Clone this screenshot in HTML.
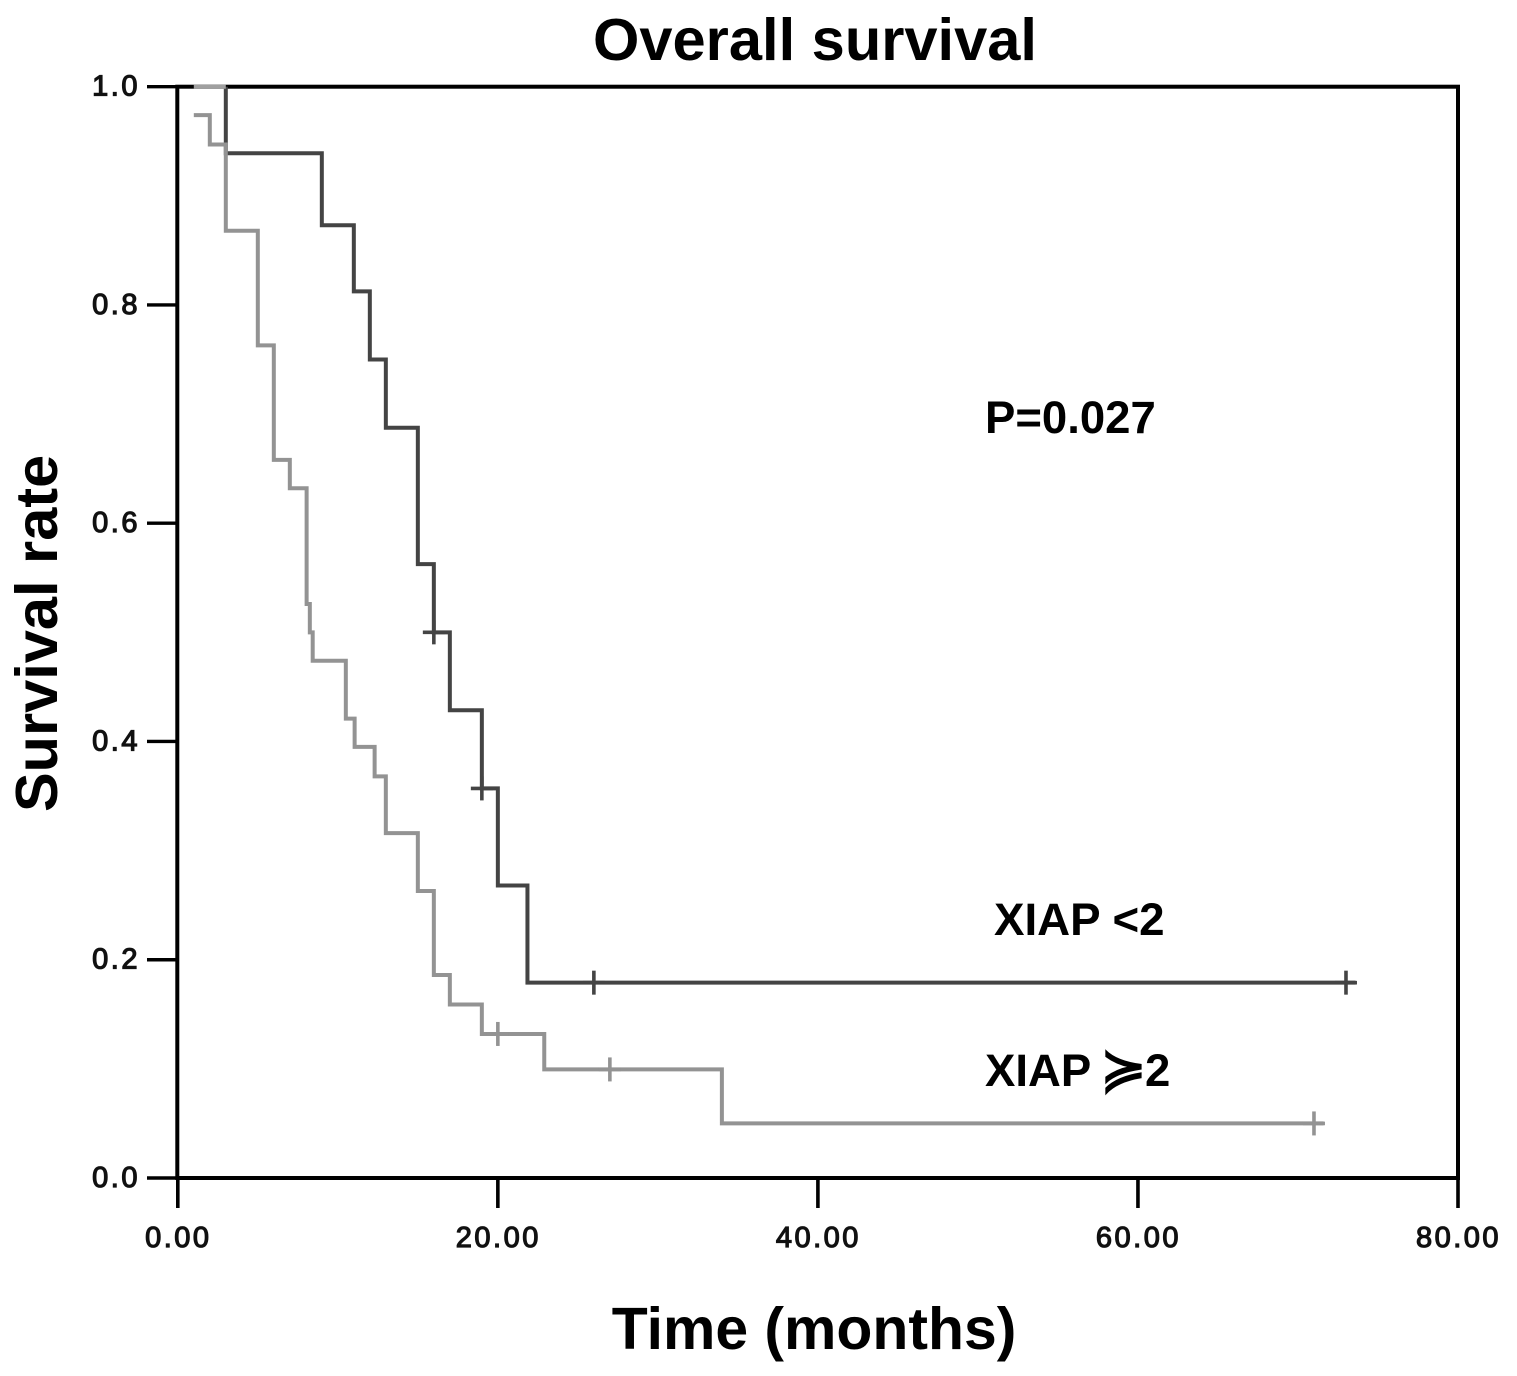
<!DOCTYPE html>
<html lang="en">
<head>
<meta charset="utf-8">
<title>Overall survival</title>
<style>
html,body{margin:0;padding:0;background:#fff;}
svg{display:block;}
.lbl{font-family:"Liberation Sans",Arial,sans-serif;font-weight:700;fill:#000;}
.tick-label{font-family:"Liberation Sans",Arial,sans-serif;font-size:29px;letter-spacing:2.5px;fill:#111;stroke:#111;stroke-width:1.2px;}
</style>
</head>
<body>
<svg id="chart" xmlns="http://www.w3.org/2000/svg" width="1517" height="1376" viewBox="0 0 1517 1376">
  <rect x="0" y="0" width="1517" height="1376" fill="#fff"/>
  <text class="lbl" x="815" y="60" font-size="59.6" text-anchor="middle">Overall survival</text>
  <text class="lbl" x="814" y="1349" font-size="58.9" text-anchor="middle">Time (months)</text>
  <text class="lbl" transform="translate(57,812) rotate(-90)" font-size="59.5">Survival rate</text>
  <text class="lbl" x="985" y="433" font-size="45.5">P=0.027</text>
  <text class="lbl" x="994" y="935" font-size="45.7">XIAP &lt;2</text>
  <text class="lbl" x="985" y="1086" font-size="45.5">XIAP <tspan x="1100" font-family="'DejaVu Sans',sans-serif" font-size="56" font-weight="400" stroke="#000" stroke-width="1.2" dy="2">≽</tspan><tspan x="1145" dy="-2">2</tspan></text>
  <g id="axes"></g>
  <g id="marks"></g>
</svg>
<script>
// Axis ticks
const xTicks = [0, 20, 40, 60, 80];
const xTickLabels = ['0.00', '20.00', '40.00', '60.00', '80.00'];
const yTicks = [0, 0.2, 0.4, 0.6, 0.8, 1.0];
const yTickLabels = ['0.0', '0.2', '0.4', '0.6', '0.8', '1.0'];

// XIAP < 2 (dark curve)
const lowTimes = [3, 3, 9, 11, 12, 13, 15, 16, 17, 19, 20, 21.85];
const lowSurvival = [1.0, 0.939, 0.873, 0.8125, 0.75, 0.6875, 0.5625, 0.5, 0.4286, 0.357, 0.268, 0.179];
const lowEndTime = 73.6;
const lowCensorTimes = [16, 19, 26, 73];
const lowCensorSurvival = [0.5, 0.357, 0.179, 0.179];

// XIAP >= 2 (gray curve)
const highTimes = [1, 2, 3, 5, 6, 7, 8.05, 8.25, 8.43, 10.5, 11.05, 12.3, 13, 15, 16, 17, 19, 22.9, 34];
const highSurvival = [0.974, 0.947, 0.868, 0.763, 0.658, 0.632, 0.526, 0.5, 0.474, 0.421, 0.395, 0.368, 0.316, 0.263, 0.186, 0.159, 0.132, 0.0995, 0.05];
const highEndTime = 71.6;
const highCensorTimes = [20, 27, 71];
const highCensorSurvival = [0.132, 0.0995, 0.05];
const highInitialTimes = [1, 3];
const highInitialSurvival = [1.0, 1.0];

const X0 = 177.8, X1 = 1458, Y0 = 1178, Y1 = 86.7;
function xScale(t) { return X0 + (t / 80) * (X1 - X0); }
function yScale(s) { return Y0 - s * (Y0 - Y1); }

const NS = 'http://www.w3.org/2000/svg';
const axes = document.getElementById('axes');
const marks = document.getElementById('marks');

function stepPath(times, values, endTime) {
  let d = 'M' + xScale(times[0]) + ' ' + yScale(values[0]);
  for (let i = 1; i < times.length; i++) {
    d += 'H' + xScale(times[i]) + 'V' + yScale(values[i]);
  }
  d += 'H' + xScale(endTime);
  return d;
}

function drawLine(parent, x1, y1, x2, y2, color, width) {
  const l = document.createElementNS(NS, 'line');
  l.setAttribute('x1', x1);
  l.setAttribute('y1', y1);
  l.setAttribute('x2', x2);
  l.setAttribute('y2', y2);
  l.setAttribute('stroke', color);
  l.setAttribute('stroke-width', width);
  parent.appendChild(l);
  return l;
}

// Frame
const frame = document.createElementNS(NS, 'rect');
frame.setAttribute('x', 177.3);
frame.setAttribute('y', Y1);
frame.setAttribute('width', X1 - 177.3);
frame.setAttribute('height', Y0 - Y1);
frame.setAttribute('fill', 'none');
frame.setAttribute('stroke', '#000');
frame.setAttribute('stroke-width', '4');


axes.appendChild(frame);

// X ticks and labels
xTicks.forEach(function (v, i) {
  const t = drawLine(axes, xScale(v), Y0, xScale(v), 1208, '#000', 3.6);
  
  
  const lab = document.createElementNS(NS, 'text');
  lab.setAttribute('class', 'tick-label');
  lab.setAttribute('x', xScale(v) + 0.5);
  lab.setAttribute('y', 1247);
  lab.setAttribute('text-anchor', 'middle');
  lab.textContent = xTickLabels[i];
  
  
  axes.appendChild(lab);
});

// Y ticks and labels
yTicks.forEach(function (v, i) {
  const t = drawLine(axes, 147, yScale(v), 177, yScale(v), '#000', 3.4);
  
  
  const lab = document.createElementNS(NS, 'text');
  lab.setAttribute('class', 'tick-label');
  lab.setAttribute('x', 140);
  lab.setAttribute('y', yScale(v) + 9);
  lab.setAttribute('text-anchor', 'end');
  lab.textContent = yTickLabels[i];
  
  
  axes.appendChild(lab);
});

function drawCurve(times, values, endTime, color) {
  const p = document.createElementNS(NS, 'path');
  p.setAttribute('d', stepPath(times, values, endTime));
  p.setAttribute('fill', 'none');
  p.setAttribute('stroke', color);
  p.setAttribute('stroke-width', '4');
  p.setAttribute('stroke-linejoin', 'miter');
  marks.appendChild(p);
  return p;
}

function drawCensors(times, values, color) {
  times.forEach(function (t, i) {
    const cx = xScale(t), cy = yScale(values[i]);
    const g = document.createElementNS(NS, 'g');
    
    
    drawLine(g, cx - 11, cy, cx + 11, cy, color, 3.6);
    drawLine(g, cx, cy - 12, cx, cy + 12, color, 3.6);
    marks.appendChild(g);
  });
}

const DARK = '#444444', GRAY = '#939393';

const lowCurve = drawCurve(lowTimes, lowSurvival, lowEndTime, DARK);


drawCensors(lowCensorTimes, lowCensorSurvival, DARK);

const highInitial = drawCurve(highInitialTimes, highInitialSurvival, highInitialTimes[1], '#a0a0a0');



const highCurve = drawCurve(highTimes, highSurvival, highEndTime, GRAY);


drawCensors(highCensorTimes, highCensorSurvival, GRAY);
</script>
</body>
</html>
